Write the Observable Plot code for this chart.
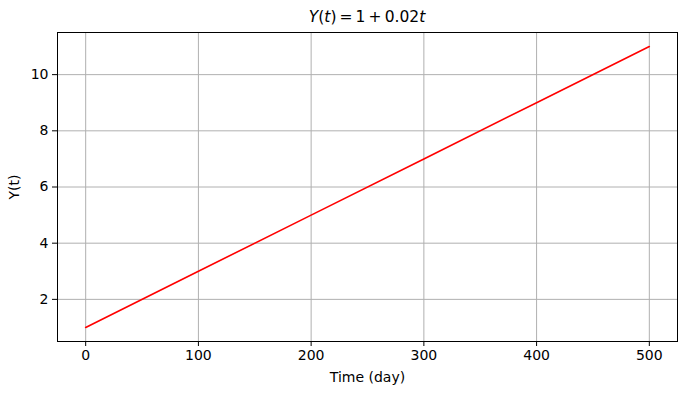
<!DOCTYPE html>
<html>
<head>
<meta charset="utf-8">
<script src="https://cdn.jsdelivr.net/npm/d3@7"></script>
<script src="https://cdn.jsdelivr.net/npm/@observablehq/plot@0.6"></script>
<style>
  html, body { margin: 0; padding: 0; background: #fff; }
  #wrap { position: relative; width: 687px; height: 393px; font-family: "DejaVu Sans", sans-serif; }
  #title { position: absolute; top: 8px; left: 57px; width: 620px; text-align: center; font-size: 15.5px; color: #000; white-space: nowrap; }
  #title i { font-style: oblique; }
</style>
</head>
<body>
<div id="wrap">
  <div id="title"><i>Y</i>(<i>t</i>)&#8201;=&#8201;1&#8201;+&#8201;0.02<i>t</i></div>
</div>
<script>
const times = [0, 100, 200, 300, 400, 500];
const values = [1, 3, 5, 7, 9, 11];
const xTicks = [0, 100, 200, 300, 400, 500];
const yTicks = [2, 4, 6, 8, 10];

const data = times.map((t, i) => ({t, y: values[i]}));

const chart = Plot.plot({
  width: 687,
  height: 393,
  marginLeft: 57,
  marginRight: 10,
  marginTop: 32,
  marginBottom: 52,
  style: { fontFamily: "DejaVu Sans, sans-serif", fontSize: "14px", background: "#fff", overflow: "visible" },
  x: { domain: [-25, 525] },
  y: { domain: [0.5, 11.5] },
  marks: [
    Plot.gridX(xTicks, { stroke: "#b0b0b0", strokeOpacity: 1, strokeWidth: 1 }),
    Plot.gridY(yTicks, { stroke: "#b0b0b0", strokeOpacity: 1, strokeWidth: 1 }),
    Plot.line(data, { x: "t", y: "y", stroke: "red", strokeWidth: 1.6 }),
    Plot.frame({ stroke: "#000", strokeWidth: 1 }),
    Plot.axisX(xTicks, { tickSize: 5, tickPadding: 4, fontSize: 14, label: "Time (day)", labelAnchor: "center", labelArrow: "none", labelOffset: 40 }),
    Plot.axisY(yTicks, { tickSize: 5, tickPadding: 4, fontSize: 14, label: "Y(t)", labelAnchor: "center", labelArrow: "none", labelOffset: 48 })
  ]
});
document.getElementById("wrap").prepend(chart);
</script>
</body>
</html>
